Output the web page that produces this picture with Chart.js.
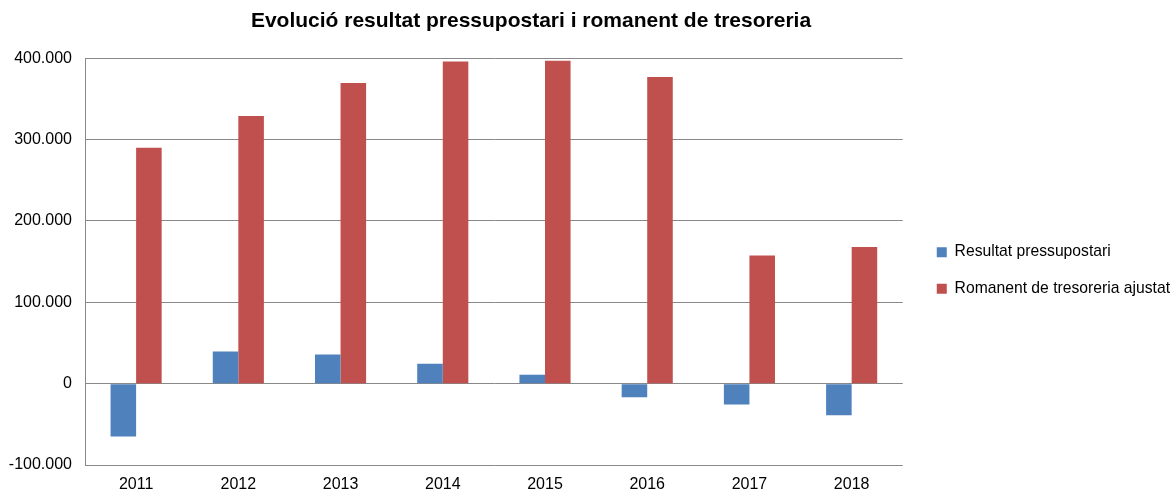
<!DOCTYPE html>
<html>
<head>
<meta charset="utf-8">
<script src="https://cdn.jsdelivr.net/npm/chart.js@4/dist/chart.umd.min.js"></script>
<style>
    html, body { margin: 0; padding: 0; background: #fff; }
    #wrap { width: 1174px; height: 491px; }
</style>
</head>
<body>
<div id="wrap"><canvas id="evolucio"></canvas></div>
<script>
// Dades llegides del gràfic
var anys = ['2011', '2012', '2013', '2014', '2015', '2016', '2017', '2018'];
var resultatPressupostari = [-65000, 39500, 35700, 24300, 11000, -16800, -25500, -39000];
var romanentTresoreria = [290000, 329000, 369500, 395800, 397000, 377000, 157600, 168000];
var tickValors = [-100000, 0, 100000, 200000, 300000, 400000];

function formatMilers(v) {
    return String(v).replace(/\B(?=(\d{3})+(?!\d))/g, '.');
}

// petits ajustos de posició del títol i de la llegenda
var ajustos = {
    id: 'ajustos',
    beforeLayout: function (chart) {
        var lg = chart.legend;
        if (lg && !lg._patched) {
            var fit = lg.fit;
            lg.fit = function () { fit.call(this); this.width += 7; };
            lg._patched = true;
        }
    },
    afterLayout: function (chart) {
        if (chart.legend) {
            chart.legend.left += 13;
            chart.legend.top += 25;
            chart.legend.bottom += 25;
        }
        if (chart.titleBlock) {
            chart.titleBlock.left -= 56;
            chart.titleBlock.right -= 56;
        }
    }
};

Chart.defaults.font.family = '"Liberation Sans", Arial, sans-serif';
Chart.defaults.color = '#000';

var ctx = document.getElementById('evolucio').getContext('2d');
var chart = new Chart(ctx, {
    type: 'bar',
    data: {
        labels: anys,
        datasets: [{
            label: 'Resultat pressupostari',
            data: resultatPressupostari,
            backgroundColor: '#4F81BD'
        }, {
            label: 'Romanent de tresoreria ajustat',
            data: romanentTresoreria,
            backgroundColor: '#C0504D'
        }]
    },
    plugins: [ajustos],
    options: {
        responsive: true,
        maintainAspectRatio: false,
        animation: false,
        layout: { padding: 0 },
        datasets: {
            bar: { categoryPercentage: 0.5, barPercentage: 1.0 }
        },
        plugins: {
            title: {
                display: true,
                text: 'Evolució resultat pressupostari i romanent de tresoreria',
                font: { size: 21, weight: 'bold' },
                color: '#000',
                padding: { top: 9, bottom: 24 }
            },
            legend: {
                position: 'right',
                labels: {
                    boxWidth: 10,
                    boxHeight: 10,
                    padding: 21,
                    font: { size: 15.7 },
                    color: '#000'
                }
            },
            tooltip: { enabled: false }
        },
        scales: {
            x: {
                afterFit: function (s) { s.height = 26; },
                grid: { display: false, drawTicks: false },
                border: { display: false },
                ticks: { font: { size: 16 }, padding: 10 }
            },
            y: {
                min: -100000,
                max: 400000,
                afterFit: function (s) { s.width = 85; },
                afterBuildTicks: function (s) {
                    s.ticks = tickValors.map(function (v) { return { value: v }; });
                },
                grid: { color: '#888', lineWidth: 1, drawTicks: false },
                border: { display: true, color: '#888' },
                ticks: {
                    font: { size: 16 },
                    padding: 13,
                    callback: function (v) { return formatMilers(v); }
                }
            }
        }
    }
});
</script>
</body>
</html>
